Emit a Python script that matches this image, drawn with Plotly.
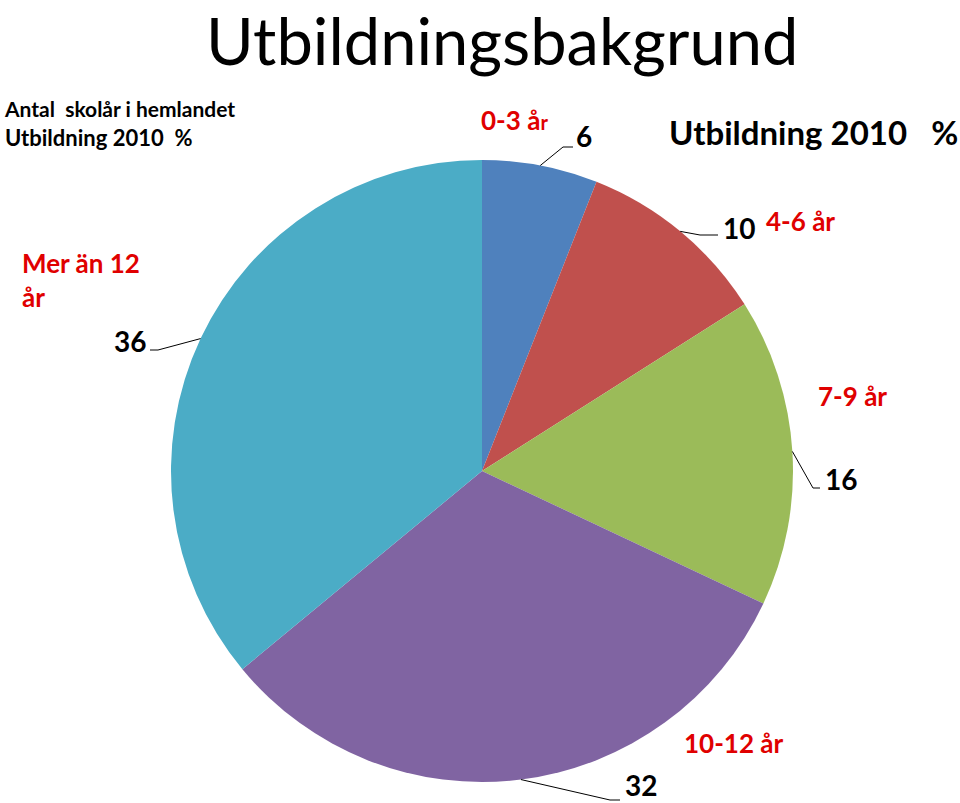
import math
import plotly.graph_objects as go

W, H = 960, 803

categories = ["0-3 år", "4-6 år", "7-9 år", "10-12 år", "Mer än 12 år"]
values = [6, 10, 16, 32, 36]
colors = ["#4F81BD", "#C0504D", "#9BBB59", "#8064A2", "#4BACC6"]

title_text = "Utbildningsbakgrund"
subtitle_lines = ["Antal  skolår i hemlandet", "Utbildning 2010  %"]
right_title = "Utbildning 2010   %"

# pie geometry (pixels)
CX, CY, R = 482, 471, 311

def px(x):
    return x / W

def py(y):
    return 1 - y / H

fig = go.Figure()
fig.add_trace(go.Pie(
    labels=categories,
    values=values,
    sort=False,
    direction="clockwise",
    rotation=0,
    marker=dict(colors=colors, line=dict(width=0)),
    textinfo="none",
    hoverinfo="label+value",
    showlegend=False,
    domain=dict(x=[px(CX - R), px(CX + R)], y=[py(CY + R), py(CY - R)]),
))

label_layout = [
    dict(elbow=(563, 147), end=(573, 147), vpos=(584, 136), cpos=(514, 120), canchor="center"),
    dict(elbow=(700, 235), end=(718, 235), vpos=(739, 228), cpos=(800, 221), canchor="center"),
    dict(elbow=(813, 488), end=(820, 488), vpos=(841, 479), cpos=(852, 396), canchor="center"),
    dict(elbow=(610, 800), end=(620, 800), vpos=(641, 803), cpos=(734, 743), canchor="center"),
    dict(elbow=(158, 350), end=(150, 350), vpos=(130, 341), cpos=(20, 280), canchor="left"),
]

FONT = "Lato"
RED = "#E00000"
annotations = []
shapes = []
total = sum(values)
cum = 0
for i, v in enumerate(values):
    mid = (cum + v / 2) / total * 2 * math.pi
    cum += v
    ex = CX + R * math.sin(mid)
    ey = CY - R * math.cos(mid)
    lay = label_layout[i]
    path = "M {} {} L {} {} L {} {}".format(
        px(ex), py(ey), px(lay["elbow"][0]), py(lay["elbow"][1]),
        px(lay["end"][0]), py(lay["end"][1]))
    shapes.append(dict(type="path", path=path, xref="paper", yref="paper",
                       line=dict(color="black", width=1)))
    bottom = lay["vpos"][1] >= H
    annotations.append(dict(
        x=px(lay["vpos"][0]), y=py(lay["vpos"][1]), xref="paper", yref="paper",
        text="<b>{}</b>".format(v), showarrow=False,
        font=dict(family=FONT, size=28, color="black"),
        xanchor="center", yanchor="bottom" if bottom else "middle", borderpad=0))
    cat = categories[i]
    if cat == "Mer än 12 år":
        cat_text = "<b>Mer än 12<br>år</b>"
    elif cat == "0-3 år":
        cat_text = "<b>0-3 å<span style='font-size:20px'>r</span></b>"
    else:
        cat_text = "<b>{}</b>".format(cat)
    annotations.append(dict(
        x=px(lay["cpos"][0]), y=py(lay["cpos"][1]), xref="paper", yref="paper",
        text=cat_text, showarrow=False, align="left",
        font=dict(family=FONT, size=26, color=RED),
        xanchor=lay["canchor"], yanchor="middle"))

annotations.append(dict(x=px(502), y=1, xref="paper", yref="paper",
                        text=title_text, showarrow=False,
                        font=dict(family=FONT, size=65, color="black"),
                        xanchor="center", yanchor="top", borderpad=0))
annotations.append(dict(x=px(3), y=py(124), xref="paper", yref="paper",
                        text="<b><span style='font-size:21px'>{}</span><br>{}</b>".format(
                            subtitle_lines[0], subtitle_lines[1]),
                        showarrow=False, align="left",
                        font=dict(family=FONT, size=22, color="black"),
                        xanchor="left", yanchor="middle", borderpad=0))
annotations.append(dict(x=px(960), y=py(132), xref="paper", yref="paper",
                        text="<b>{}</b>".format(right_title), showarrow=False,
                        font=dict(family=FONT, size=33, color="black"),
                        xanchor="right", yanchor="middle"))

fig.update_layout(
    width=W, height=H,
    margin=dict(l=0, r=0, t=0, b=0),
    paper_bgcolor="white", plot_bgcolor="white",
    annotations=annotations, shapes=shapes,
)

fig.write_html("out.html")
